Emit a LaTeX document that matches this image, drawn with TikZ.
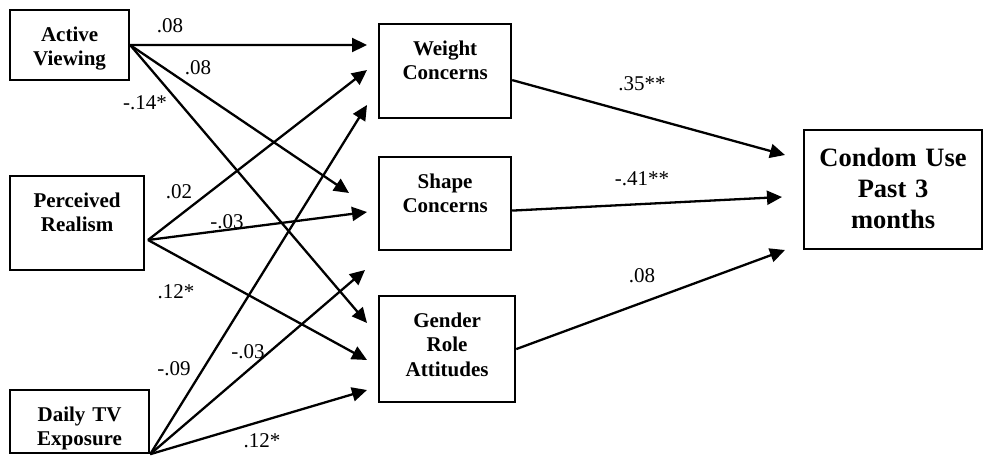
\documentclass[tikz,border=0pt]{standalone}
\usepackage{fontspec}
\setmainfont{Liberation Serif}
\usetikzlibrary{arrows.meta}
\begin{document}
\begin{tikzpicture}[x=1pt,y=-1pt,
  var/.style={draw,line width=2.2pt,inner sep=0pt,anchor=north west,align=center,
              text height=31pt,font=\fontsize{21}{24.5}\selectfont\bfseries},
  outcome/.style={var,text height=36pt,font=\fontsize{26.5}{31}\selectfont\bfseries},
  effect/.style={line width=2.3pt,-{Triangle[length=15pt,width=14pt]}},
  coef/.style={inner sep=0pt,font=\fontsize{21}{24.5}\selectfont}]
\path[use as bounding box] (0,0) rectangle (983,462);
\node[var,text width=119pt,text depth=39pt] (av) at (9,9) {Active\\Viewing};
\node[var,text width=134pt,text depth=63pt] (pr) at (9,175) {Perceived\\Realism};
\node[var,text width=139pt,text depth=32pt] (tv) at (9,389) {Daily TV\\Exposure};
\node[var,text width=132pt,text depth=63pt] (wc) at (378,23) {Weight\\Concerns};
\node[var,text width=132pt,text depth=62pt] (sc) at (378,156) {Shape\\Concerns};
\node[var,text width=136pt,text depth=75pt] (gr) at (378,295) {Gender\\Role\\Attitudes};
\node[outcome,text width=178pt,text depth=83pt] (cu) at (803,129) {Condom Use\\Past 3\\months};
\coordinate (pr-out) at (148,240);
\coordinate (wc-a) at (367,45);
\coordinate (wc-b) at (367,70);
\coordinate (wc-c) at (367,105);
\coordinate (sc-a) at (349,193);
\coordinate (sc-b) at (367,212);
\coordinate (sc-c) at (365,270);
\coordinate (gr-a) at (367,323);
\coordinate (gr-b) at (367,360);
\coordinate (gr-c) at (367,390);
\coordinate (cu-a) at (785,155);
\coordinate (cu-b) at (782,197);
\coordinate (cu-c) at (785,250);
\draw[effect] (av.east) -- (wc-a);
\draw[effect] (av.east) -- (sc-a);
\draw[effect] (av.east) -- (gr-a);
\draw[effect] (pr-out) -- (wc-b);
\draw[effect] (pr-out) -- (sc-b);
\draw[effect] (pr-out) -- (gr-b);
\draw[effect] (tv.south east) -- (wc-c);
\draw[effect] (tv.south east) -- (sc-c);
\draw[effect] (tv.south east) -- (gr-c);
\draw[effect] ([yshift=-9pt]wc.east) -- (cu-a);
\draw[effect] ([yshift=-7pt]sc.east) -- (cu-b);
\draw[effect] (gr.east) -- (cu-c);
\node[coef] (k1) at (170,26) {.08};
\node[coef] (k2) at (198,68) {.08};
\node[coef] (k3) at (145,103) {-.14*};
\node[coef] (k4) at (179,192) {.02};
\node[coef] (k5) at (227,222) {-.03};
\node[coef] (k6) at (176,292) {.12*};
\node[coef] (k7) at (174,369) {-.09};
\node[coef] (k8) at (248,352) {-.03};
\node[coef] (k9) at (262,441) {.12*};
\node[coef] (k10) at (642,84) {.35**};
\node[coef] (k11) at (642,179) {-.41**};
\node[coef] (k12) at (642,276) {.08};
\end{tikzpicture}
\end{document}
